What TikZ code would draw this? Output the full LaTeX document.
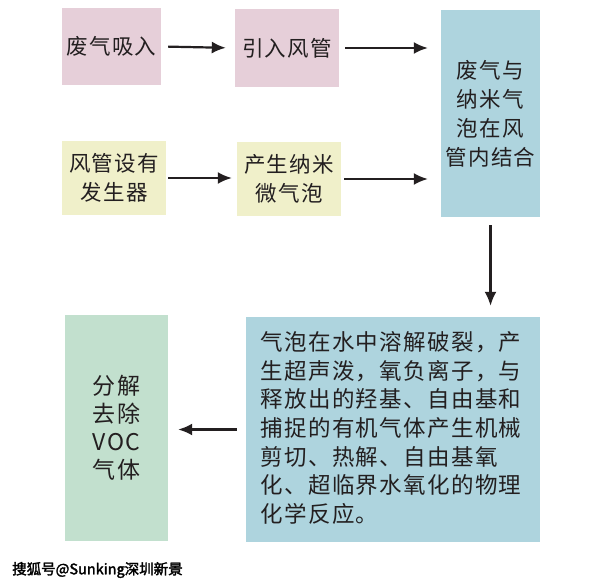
\documentclass[tikz,border=0pt]{standalone}
\usepackage{fontspec}
\setmainfont{Noto Sans CJK SC}
\newfontfamily\cjk{Noto Sans CJK SC}[LetterSpace=6]
\newfontfamily\cjkwm{Noto Sans CJK SC}[FakeBold=2]
\usetikzlibrary{arrows.meta}
\definecolor{pinkbox}{HTML}{E6CFD9}
\definecolor{yellowbox}{HTML}{F0F0CA}
\definecolor{bluebox}{HTML}{AED4DE}
\definecolor{greenbox}{HTML}{C2E0CE}
\definecolor{txt}{HTML}{231F20}
\tikzset{
  box/.style={rectangle, inner sep=0pt, text=txt, align=center,
    font=\cjk\fontsize{21.5}{29}\selectfont},
  arr/.style={draw=txt, line width=2.2pt, -{Latex[length=14pt,width=12pt]}},
}
\begin{document}
\begin{tikzpicture}[x=1pt,y=-1pt]
\useasboundingbox[fill=white] (0,0) rectangle (612,585);
% boxes
\node[box, fill=pinkbox, minimum width=99pt, minimum height=77pt] (b1) at (111.5,46.5) {废气吸入};
\node[box, fill=pinkbox, minimum width=104pt, minimum height=78pt] (b2) at (287,48) {引入风管};
\node[box, fill=bluebox, minimum width=99pt, minimum height=207pt] (b3) at (490.5,113.5) {废气与\\纳米气\\泡在风\\管内结合};
\node[box, fill=yellowbox, minimum width=104pt, minimum height=74pt] (b4) at (114,178) {风管设有\\发生器};
\node[box, fill=yellowbox, minimum width=104pt, minimum height=74pt] (b5) at (289,179) {产生纳米\\微气泡};
\node[box, fill=bluebox, minimum width=294pt, minimum height=225pt] (b6) at (393,429.5) {};
\node[box, align=left, font=\cjk\fontsize{22.5}{28.6}\selectfont] (t6) at (391,428) {气泡在水中溶解破裂，产\\生超声泼，氧负离子，与\\释放出的羟基、自由基和\\捕捉的有机气体产生机械\\剪切、热解、自由基氧\\化、超临界水氧化的物理\\化学反应。};
\node[box, fill=greenbox, minimum width=103pt, minimum height=226pt, font=\cjk\fontsize{23}{28}\selectfont] (b7) at (116.5,428) {分解\\去除\\VOC\\气体};
% arrows
\draw[arr, shorten <=7pt, shorten >=9pt] (b1.east) -- (b2.west);
\draw[arr, shorten <=6pt, shorten >=13pt] (b2.east) -- (b2.east -| b3.west);
\draw[arr, shorten <=2pt, shorten >=5pt] (b4.east) -- (b4.east -| b5.west);
\draw[arr, shorten <=3pt, shorten >=13pt] (b5.east) -- (b5.east -| b3.west);
\draw[arr, shorten <=8pt, shorten >=11pt] (b3.south) -- (b3.south |- b6.north);
\draw[arr, shorten <=9pt, shorten >=10pt] (b6.west) -- (b6.west -| b7.east);
% watermark
\node[anchor=west, inner sep=0pt, text=black, font=\cjkwm\fontsize{14.5}{16}\selectfont] (wm) at (12,570) {搜狐号@Sunking深圳新景};
\end{tikzpicture}
\end{document}
